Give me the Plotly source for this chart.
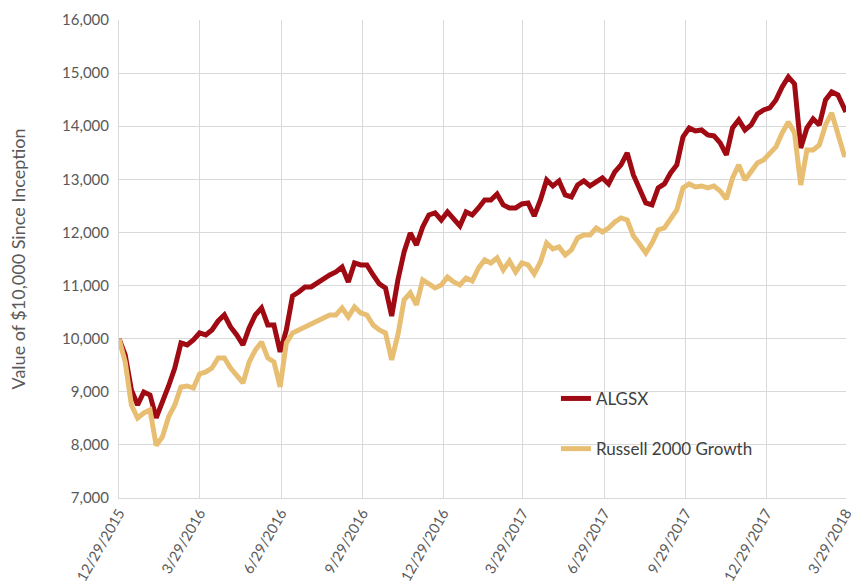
import pandas as pd
import plotly.graph_objects as go

# ---- data ----
dates = [d.strftime("%Y-%m-%d") for d in pd.date_range("2015-12-29", periods=118, freq="7D")] + ["2018-03-29"]

algsx = [10000, 9693, 9034, 8752, 8996, 8940, 8507, 8789, 9109, 9448,
         9919, 9881, 9976, 10107, 10070, 10164, 10333, 10446, 10220, 10070,
         9881, 10201, 10446, 10578, 10258, 10258, 9750, 10164, 10804, 10879,
         10974, 10974, 11049, 11143, 11199, 11256, 11350, 11068, 11425, 11388,
         11388, 11199, 11030, 10955, 10427, 11105, 11633, 11990, 11764, 12103,
         12329, 12367, 12235, 12386, 12235, 12122, 12386, 12329, 12461, 12612,
         12612, 12725, 12518, 12461, 12461, 12536, 12555, 12310, 12612, 12988,
         12875, 12970, 12706, 12668, 12894, 12970, 12875, 12951, 13026, 12913,
         13139, 13271, 13497, 13082, 12838, 12555, 12518, 12838, 12913, 13120,
         13271, 13798, 13967, 13911, 13930, 13836, 13817, 13685, 13459, 13967,
         14118, 13930, 14024, 14231, 14306, 14344, 14495, 14740, 14928, 14796,
         13591, 13967, 14137, 14024, 14495, 14645, 14589, 14306, 14268]

russell = [10000, 9561, 8752, 8507, 8601, 8657, 7990, 8150, 8526, 8752,
           9091, 9109, 9071, 9335, 9373, 9448, 9637, 9637, 9448, 9316,
           9166, 9561, 9787, 9938, 9637, 9561, 9091, 9919, 10107, 10164,
           10220, 10296, 10333, 10390, 10446, 10446, 10578, 10409, 10597, 10484,
           10446, 10258, 10164, 10107, 9599, 10070, 10729, 10861, 10635, 11105,
           11030, 10955, 11011, 11162, 11068, 11011, 11143, 11086, 11331, 11482,
           11425, 11520, 11294, 11463, 11256, 11425, 11388, 11218, 11444, 11802,
           11689, 11727, 11576, 11670, 11896, 11953, 11953, 12084, 12009, 12084,
           12197, 12273, 12235, 11934, 11783, 11614, 11802, 12047, 12084, 12273,
           12423, 12838, 12913, 12856, 12875, 12838, 12875, 12781, 12631, 13026,
           13271, 12988, 13139, 13308, 13365, 13478, 13610, 13873, 14080, 13873,
           12894, 13553, 13553, 13647, 14024, 14250, 13836, 13459, 13450]

tick_dates = ["2015-12-29", "2016-03-29", "2016-06-29", "2016-09-29", "2016-12-29",
              "2017-03-29", "2017-06-29", "2017-09-29", "2017-12-29", "2018-03-29"]
tick_labels = ["12/29/2015", "3/29/2016", "6/29/2016", "9/29/2016", "12/29/2016",
               "3/29/2017", "6/29/2017", "9/29/2017", "12/29/2017", "3/29/2018"]

RED = "#A00A12"
TAN = "#E8BE72"
GRID = "#D9D9D9"
TXT = "#595959"
FONT = "Lato"

fig = go.Figure()
fig.add_trace(go.Scatter(x=dates, y=algsx, mode="lines", name="ALGSX",
                         line=dict(color=RED, width=5), legend="legend"))
fig.add_trace(go.Scatter(x=dates, y=russell, mode="lines", name="Russell 2000 Growth",
                         line=dict(color=TAN, width=5), legend="legend2"))

fig.update_layout(
    width=856, height=588,
    margin=dict(l=119, r=10, t=20, b=90),
    paper_bgcolor="white", plot_bgcolor="white",
    font=dict(family=FONT, color=TXT, size=15),
    showlegend=True,
    legend=dict(x=0.601, y=0.245, xanchor="left", yanchor="top",
                bgcolor="rgba(0,0,0,0)", font=dict(size=17, color="#404040")),
    legend2=dict(x=0.601, y=0.140, xanchor="left", yanchor="top",
                 bgcolor="rgba(0,0,0,0)", font=dict(size=17, color="#404040")),
    xaxis=dict(type="date", range=["2015-12-29", "2018-03-29 03:00"],
               tickvals=tick_dates, ticktext=tick_labels, tickangle=-60,
               ticklabeloverflow="allow",
               showgrid=True, gridcolor=GRID, gridwidth=1,
               showline=True, linecolor=GRID, linewidth=1,
               zeroline=False, ticks="", automargin=False,
               tickfont=dict(size=14.5, color=TXT)),
    yaxis=dict(range=[7000, 16000], dtick=1000, tickformat=",",
               showgrid=True, gridcolor=GRID, gridwidth=1,
               showline=True, linecolor=GRID, linewidth=1,
               zeroline=False, ticks="", ticklabelstandoff=6, automargin=False,
               tickfont=dict(size=15, color=TXT),
               title=dict(text="Value of $10,000 Since Inception",
                          font=dict(size=18, color=TXT), standoff=31)),
)

fig.write_html("out.html", config={"displayModeBar": False},
               post_script="document.body.style.margin='0px';document.body.style.overflow='hidden';")
